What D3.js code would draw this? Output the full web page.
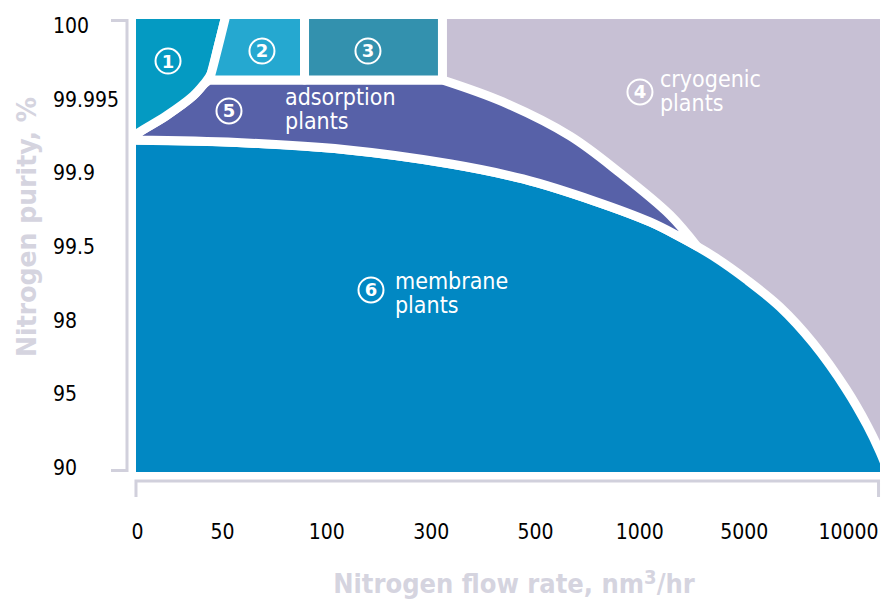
<!DOCTYPE html>
<html><head><meta charset="utf-8">
<script src="https://cdn.jsdelivr.net/npm/d3@7"></script>
<style>html,body{margin:0;padding:0;background:#fff;} svg{display:block;}</style>
</head><body>
<svg id="chart" width="896" height="599"></svg>
<script>
// ---- tick labels (categorical axes) ----
const flowLabels = ["0","50","100","300","500","1000","5000","10000"];
const purityLabels = ["100","99.995","99.9","99.5","98","95","90"];

// ---- region outlines, in [flow-label index, purity-label index] units ----
const plotBounds = [[-0.012,-0.081],[7.307,6.068]];
const region1Edge = [[1.029,-0.081],[0.953,0.299],[0.871,0.665],[0.788,0.801],[0.659,0.964],[0.341,1.235],[0.012,1.466],[-0.2,1.649]];
const region2Box = [[1.029,-0.204],[1.791,-0.204],[1.791,0.747],[0.847,0.747]];
const region3Box = [[1.791,-0.204],[3.113,-0.204],[3.113,0.747],[1.791,0.747]];
const adsorptionTop = [[3.113,0.747],[3.693,1.045],[4.336,1.507],[4.815,2.009],[5.294,2.579],[5.55,3.0]];
const adsorptionBottom = [[5.55,3.0],[5.390,2.878],[5.102,2.674],[4.566,2.389],[3.885,2.090],[3.195,1.887],[2.169,1.690],[1.144,1.595],[-0.082,1.561]];
const membraneTop = [[-0.2,1.561],[1.144,1.595],[2.169,1.690],[3.195,1.887],[3.885,2.090],[4.566,2.389],[5.102,2.674],[5.390,2.878],[5.706,3.136],[6.032,3.462],[6.348,3.828],[6.665,4.317],[6.981,4.941],[7.182,5.430],[7.307,5.796],[7.422,6.204]];

// ---- annotations ----
const badgeNumbers = ["1","2","3","4","5","6"];
const badgeFlowIdx = [0.365,1.383,2.399,5.006,1.067,2.428];
const badgePurityIdx = [0.489,0.353,0.353,0.909,1.167,3.597];
const regionNames = [["adsorption","plants"],["cryogenic","plants"],["membrane","plants"]];
const nameFlowIdx = [1.604,5.198,2.658];
const namePurityIdx = [1.086,0.842,3.584];

const colors = {r1:"#049ac2", r2:"#25a8d0", r3:"#3391ae", cryo:"#c7c0d4", ads:"#5761a8", mem:"#0188c3",
  axis:"#d1d0dc", title:"#d5d4df"};

const svg = d3.select("#chart");
const x = d3.scaleLinear().domain([0,1,7]).range([137,222,848]);
const y = d3.scaleLinear().domain([0,6]).range([25,467]);

const condensed = "'DejaVu Sans Condensed','DejaVu Sans',sans-serif";

// clip to the plot area
const px0 = x(plotBounds[0][0]), px1 = x(plotBounds[1][0]);
const py0 = y(plotBounds[0][1]), py1 = y(plotBounds[1][1]);
svg.append("defs").append("clipPath").attr("id","plotclip")
  .append("rect").attr("x",px0).attr("y",py0).attr("width",px1-px0).attr("height",py1-py0);

const g = svg.append("g").attr("clip-path","url(#plotclip)");

// background: cryogenic region fills plot
g.append("rect").attr("x",px0).attr("y",py0).attr("width",px1-px0).attr("height",py1-py0)
  .attr("fill",colors.cryo);

function pathOf(parts){
  let d = "";
  parts.forEach((p,i)=>{
    let s = d3.line().x(v=>x(v[0])).y(v=>y(v[1])).curve(p.curve||d3.curveLinear)(p.pts);
    if(i>0) s = "L" + s.slice(1);
    d += s;
  });
  return d + "Z";
}
const cr = d3.curveCatmullRom.alpha(0.5);

const shapes = [
  {fill:colors.mem, d:pathOf([{pts:membraneTop,curve:cr},{pts:[[7.422,6.313],[-0.2,6.313]]}])},
  {fill:colors.ads, d:pathOf([
      {pts:[region2Box[3],[3.113,0.747]]},
      {pts:adsorptionTop,curve:cr},
      {pts:adsorptionBottom,curve:cr},
      {pts:[[-0.082,1.561]].concat(region1Edge.slice(3,7).reverse(),[[0.847,0.747]]), curve:cr}
  ])},
  {fill:colors.r1, d:pathOf([{pts:[[-0.2,1.649],[-0.2,-0.204],[1.029,-0.204]]},{pts:region1Edge,curve:cr}])},
  {fill:colors.r2, d:pathOf([{pts:region2Box},{pts:[[0.847,0.747]].concat(region1Edge.slice(0,3).reverse()),curve:cr}])},
  {fill:colors.r3, d:pathOf([{pts:region3Box}])}
];
g.selectAll("path.region").data(shapes).join("path").attr("class","region")
  .attr("d",s=>s.d).attr("fill",s=>s.fill)
  .attr("stroke","#fff").attr("stroke-width",9).attr("stroke-linejoin","round");

// badges
const badges = svg.append("g").selectAll("g").data(badgeNumbers).join("g")
  .attr("transform",(d,i)=>`translate(${x(badgeFlowIdx[i])},${y(badgePurityIdx[i])})`);
badges.append("circle").attr("r",12.5).attr("fill","none").attr("stroke","#fff").attr("stroke-width",2);
badges.append("text").text(d=>d).attr("text-anchor","middle").attr("dy","0.36em")
  .attr("fill","#fff").attr("font-family","'DejaVu Sans',sans-serif").attr("font-weight","bold").attr("font-size",18);

// region names
const names = svg.append("g").selectAll("text").data(regionNames).join("text")
  .attr("x",(d,i)=>x(nameFlowIdx[i])).attr("y",(d,i)=>y(namePurityIdx[i]))
  .attr("fill","#fff").attr("font-family",condensed).attr("font-size",23);
names.selectAll("tspan").data((d,i)=>d.map(t=>({t,i}))).join("tspan")
  .attr("x",d=>x(nameFlowIdx[d.i])).attr("dy",(d,j)=>j?23.5:0).text(d=>d.t);

// y axis labels
const yAxis = d3.axisLeft(y).tickValues(d3.range(purityLabels.length)).tickFormat(i=>purityLabels[i]).tickSize(0);
const ya = svg.append("g").call(yAxis);
ya.select(".domain").remove();
ya.selectAll("text").attr("x",53).attr("text-anchor","start").attr("dy","0.35em")
  .attr("fill","#000").attr("font-family",condensed).attr("font-size",21);

// x axis labels
const xAxis = d3.axisBottom(x).tickValues(d3.range(flowLabels.length)).tickFormat(i=>flowLabels[i]).tickSize(0);
const xa = svg.append("g").attr("transform","translate(0,532)").call(xAxis);
xa.select(".domain").remove();
xa.selectAll("text").attr("y",0).attr("dy","0.35em")
  .attr("fill","#000").attr("font-family",condensed).attr("font-size",21);

// axis brackets
svg.append("path").attr("fill","none").attr("stroke",colors.axis).attr("stroke-width",3)
  .attr("d",`M111,${y(plotBounds[0][1])+1.5}H127V${y(plotBounds[1][1])-1.5}H111`);
svg.append("path").attr("fill","none").attr("stroke",colors.axis).attr("stroke-width",3)
  .attr("d",`M${px0},497V481H${px1-1.5}V497`);

// axis titles
svg.append("text").attr("transform","translate(36,227) rotate(-90)")
  .attr("text-anchor","middle").attr("fill",colors.title)
  .attr("font-family",condensed).attr("font-weight","bold").attr("font-size",27)
  .attr("textLength",260).attr("lengthAdjust","spacingAndGlyphs")
  .text("Nitrogen purity, %");
const xt = svg.append("text").attr("x",514).attr("y",593)
  .attr("text-anchor","middle").attr("fill",colors.title)
  .attr("font-family",condensed).attr("font-weight","bold").attr("font-size",27);
xt.append("tspan").text("Nitrogen flow rate, nm");
xt.append("tspan").attr("dy",-9).attr("font-size",20).text("3");
xt.append("tspan").attr("dy",9).text("/hr");
</script>
</body></html>
